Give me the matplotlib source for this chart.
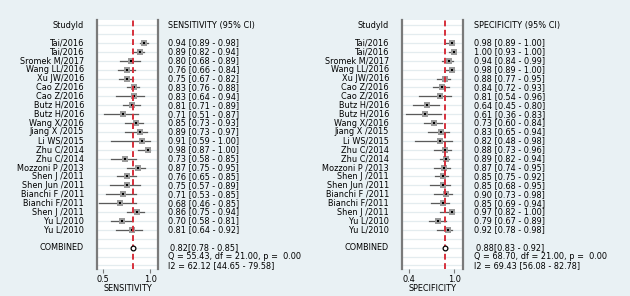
import matplotlib
matplotlib.use("Agg")
import matplotlib.pyplot as plt
from matplotlib.transforms import blended_transform_factory

# ── data ──────────────────────────────────────
studies = ["Tai/2016", "Tai/2016", "Sromek M/2017", "Wang LL/2016", "Xu JW/2016",
           "Cao Z/2016", "Cao Z/2016", "Butz H/2016", "Butz H/2016", "Wang X/2016",
           "Jiang X /2015", "Li WS/2015", "Zhu C/2014", "Zhu C/2014", "Mozzoni P /2013",
           "Shen J /2011", "Shen Jun /2011", "Bianchi F /2011", "Bianchi F/2011",
           "Shen J /2011", "Yu L/2010", "Yu L/2010"]

sens    = [0.94, 0.89, 0.80, 0.76, 0.75, 0.83, 0.83, 0.81, 0.71, 0.85, 0.89,
           0.91, 0.98, 0.73, 0.87, 0.76, 0.75, 0.71, 0.68, 0.86, 0.70, 0.81]
sens_lo = [0.89, 0.82, 0.68, 0.66, 0.67, 0.76, 0.64, 0.71, 0.51, 0.73, 0.73,
           0.59, 0.87, 0.58, 0.75, 0.65, 0.57, 0.53, 0.46, 0.75, 0.58, 0.64]
sens_hi = [0.98, 0.94, 0.89, 0.84, 0.82, 0.88, 0.94, 0.89, 0.87, 0.93, 0.97,
           1.00, 1.00, 0.85, 0.95, 0.85, 0.89, 0.85, 0.85, 0.94, 0.81, 0.92]

spec    = [0.98, 1.00, 0.94, 0.98, 0.88, 0.84, 0.81, 0.64, 0.61, 0.73, 0.83,
           0.82, 0.88, 0.89, 0.87, 0.85, 0.85, 0.90, 0.85, 0.97, 0.79, 0.92]
spec_lo = [0.89, 0.93, 0.84, 0.89, 0.77, 0.72, 0.54, 0.45, 0.36, 0.60, 0.65,
           0.48, 0.73, 0.82, 0.74, 0.75, 0.68, 0.73, 0.69, 0.82, 0.67, 0.78]
spec_hi = [1.00, 1.00, 0.99, 1.00, 0.95, 0.93, 0.96, 0.80, 0.83, 0.84, 0.94,
           0.98, 0.96, 0.94, 0.95, 0.92, 0.95, 0.98, 0.94, 1.00, 0.89, 0.98]

sens_comb = (0.82, 0.78, 0.85)
spec_comb = (0.88, 0.83, 0.92)
sens_stats = ["Q = 55.43, df = 21.00, p =  0.00", "I2 = 62.12 [44.65 - 79.58]"]
spec_stats = ["Q = 68.70, df = 21.00, p =  0.00", "I2 = 69.43 [56.08 - 82.78]"]

# ── style ─────────────────────────────────────
BG = "#e9f1f4"
FS = 5.9
plt.rcParams["font.family"] = ["DejaVu Sans"]

W, H = 630, 296
fig = plt.figure(figsize=(W / 100, H / 100), dpi=100, facecolor=BG)


def panel(box_px, xlim, ticks, xlabel, header, vals, lo, hi, comb, stats,
          label_x, text_x):
    x0, x1, y0, y1 = box_px
    ax = fig.add_axes([x0 / W, 1 - y1 / H, (x1 - x0) / W, (y1 - y0) / H])
    ax.set_facecolor("white")
    n_rows = len(studies) + 5
    ax.set_ylim(27.4, -0.58)
    ax.set_xlim(*xlim)

    # faint row lines
    for r in range(n_rows + 1):
        ax.axhline(r, color="#e4ecef", lw=0.9, zorder=0)

    rows = [i + 2 for i in range(len(studies))]
    for r, v, l, h in zip(rows, vals, lo, hi):
        ax.plot([l, h], [r, r], color="#5a5a5a", lw=0.9, zorder=2)
        ax.plot(v, r, marker="s", ms=4.8, color="#9a9a9a", mew=0, zorder=3)
        ax.plot(v, r, marker="s", ms=2.0, color="black", mew=0, zorder=4)

    comb_row = len(studies) + 3
    ax.plot(comb[0], comb_row, marker="o", ms=3.4, mfc="white", mec="black",
            mew=0.9, zorder=5)
    ax.axvline(comb[0], color="#d6303c", lw=1.4, dashes=(3, 1.8), zorder=4)

    for s in ["top", "bottom"]:
        ax.spines[s].set_visible(False)
    for s in ["left", "right"]:
        ax.spines[s].set_color("#7a7a7a")
        ax.spines[s].set_linewidth(1.6)
    ax.set_yticks([])
    ax.set_xticks(ticks)
    ax.set_xticklabels([f"{t:.1f}" for t in ticks], fontsize=FS)
    ax.tick_params(axis="x", length=3, width=0.8, color="#7a7a7a", pad=1)
    ax.set_xlabel(xlabel, fontsize=FS, labelpad=0.5)

    tr = blended_transform_factory(fig.transFigure, ax.transData)
    ax.text(label_x / W, 0, "StudyId", transform=tr, ha="right", va="center", fontsize=FS)
    ax.text(text_x / W, 0, header, transform=tr, ha="left", va="center", fontsize=FS)
    for r, name, v, l, h in zip(rows, studies, vals, lo, hi):
        ax.text(label_x / W, r, name, transform=tr, ha="right", va="center", fontsize=FS)
        ax.text(text_x / W, r, f"{v:.2f} [{l:.2f} - {h:.2f}]", transform=tr,
                ha="left", va="center", fontsize=FS)
    ax.text(label_x / W, comb_row, "COMBINED", transform=tr, ha="right",
            va="center", fontsize=FS)
    ax.text((text_x + 2) / W, comb_row, f"{comb[0]:.2f}[{comb[1]:.2f} - {comb[2]:.2f}]",
            transform=tr, ha="left", va="center", fontsize=FS)
    for k, s in enumerate(stats):
        ax.text(text_x / W, comb_row + 1 + k, s, transform=tr, ha="left",
                va="center", fontsize=FS)
    return ax


panel((97, 158, 20, 269), (0.436, 1.085), [0.5, 1.0], "SENSITIVITY",
      "SENSITIVITY (95% CI)", sens, sens_lo, sens_hi, sens_comb, sens_stats,
      label_x=84, text_x=168)
panel((402, 463, 20, 269), (0.307, 1.12), [0.4, 1.0], "SPECIFICITY",
      "SPECIFICITY (95% CI)", spec, spec_lo, spec_hi, spec_comb, spec_stats,
      label_x=389, text_x=474)

fig.savefig("out.png", dpi=100, facecolor=BG)
